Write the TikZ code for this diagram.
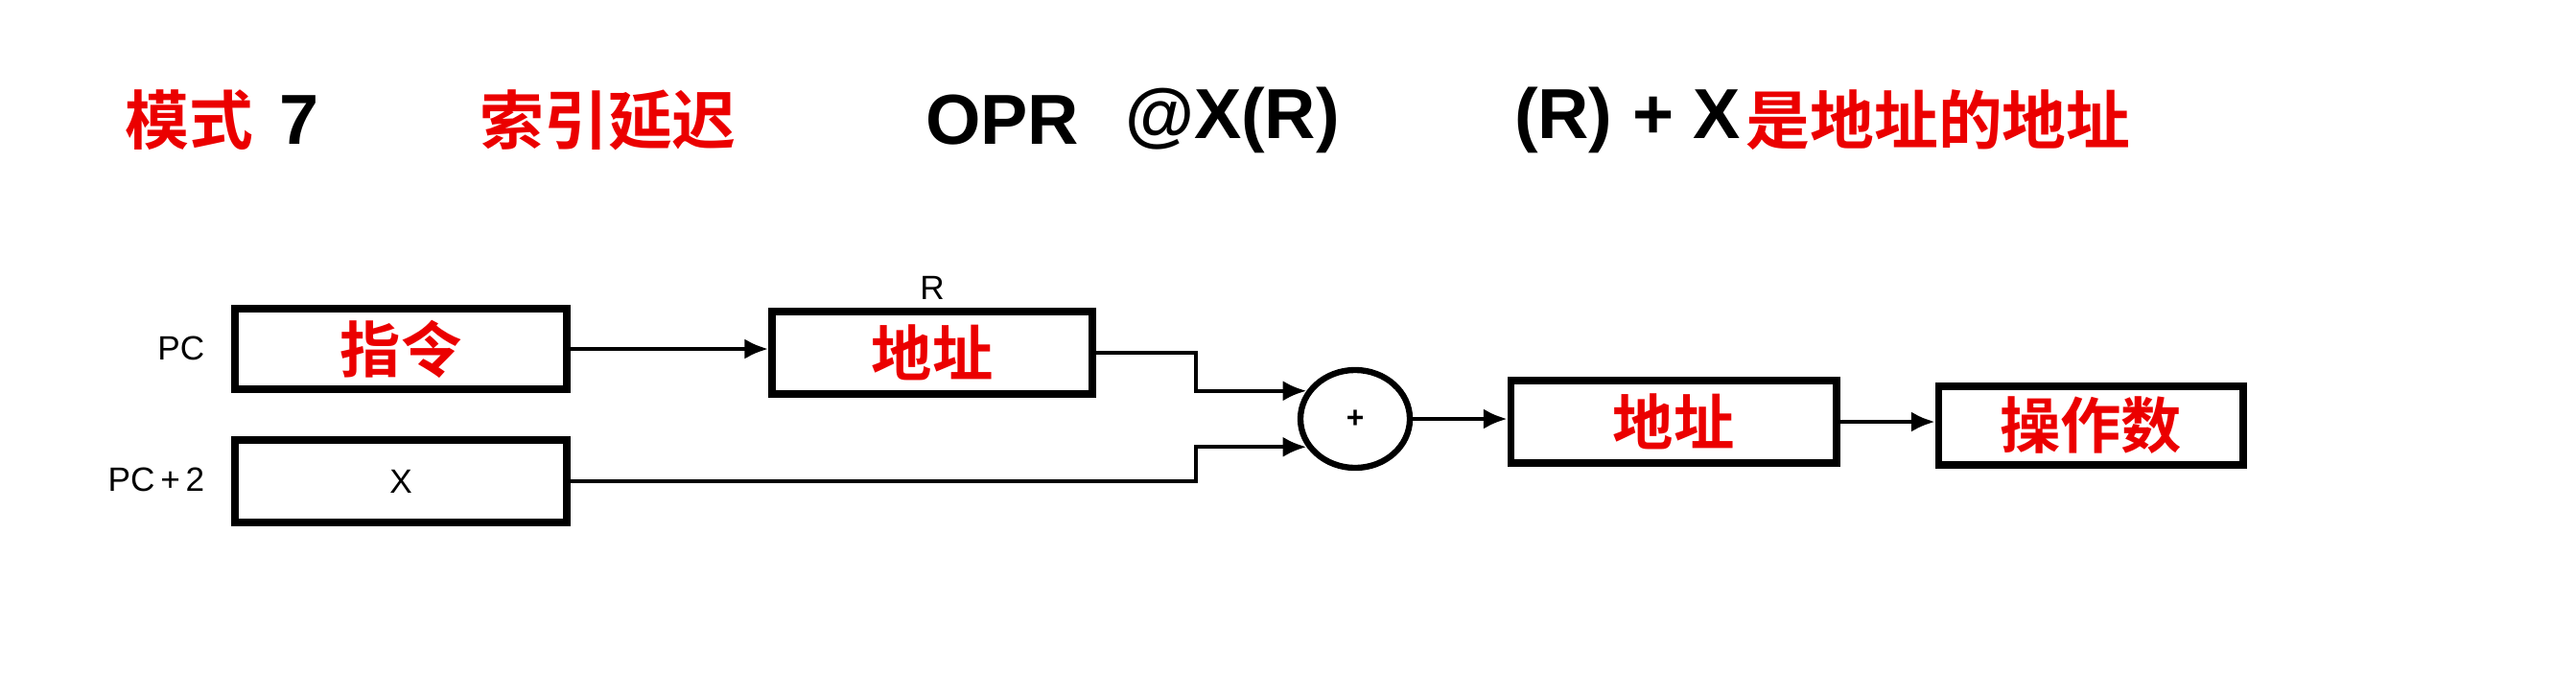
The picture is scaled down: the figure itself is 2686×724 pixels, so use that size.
\documentclass[tikz,border=0pt]{standalone}
\usepackage{fontspec}
\setmainfont{Liberation Sans}
\newfontfamily\cjk{Noto Sans CJK SC Bold}
\usetikzlibrary{arrows.meta,shapes.geometric}
\definecolor{tred}{RGB}{235,0,0}
\begin{document}
\begin{tikzpicture}[x=0.01cm,y=-0.01cm,
  regbox/.style={draw, line width=2.2pt, inner sep=0pt},
  arr/.style={line width=1.2pt, -{Latex[length=7pt,width=6pt]}},
  lbl/.style={font=\fontsize{10}{12}\selectfont, inner sep=0pt},
  ttl/.style={font=\fontsize{21}{26}\selectfont\bfseries, inner sep=0pt},
  cttl/.style={font=\cjk\fontsize{19}{22}\selectfont, text=tred, inner sep=0pt},
  cbox/.style={font=\cjk\fontsize{18}{22}\selectfont, text=tred}]
\useasboundingbox (0,0) rectangle (2686,724);
% title
\node[cttl] (t1) at (197,125) {模式};
\node[ttl] (t2) at (312,125) {7};
\node[cttl] (t3) at (634,125) {索引延迟};
\node[ttl] (t4) at (1045,125) {OPR};
\node[ttl] (t5) at (1285,125) {@X(R)};
\node[ttl] (t6) at (1697,125) {(R) + X};
\node[cttl] (t7) at (2021,125) {是地址的地址};
% boxes
\node[regbox, minimum width=3.46cm, minimum height=0.84cm, cbox] (ins) at (418,364) {指令};
\node[regbox, minimum width=3.46cm, minimum height=0.86cm, lbl] (xbox) at (418,502) {X};
\node[regbox, minimum width=3.34cm, minimum height=0.86cm, cbox] (addr1) at (972,368) {地址};
\node[draw, ellipse, line width=1.8pt, minimum width=1.14cm, minimum height=1.02cm, inner sep=0pt, font=\bfseries\fontsize{9}{10}\selectfont] (circ) at (1413,437) {+};
\node[regbox, minimum width=3.39cm, minimum height=0.86cm, cbox] (addr2) at (1745,440) {地址};
\node[regbox, minimum width=3.17cm, minimum height=0.82cm, cbox] (opd) at (2180,444) {操作数};
% labels
\node[lbl, anchor=east] (pc) at (214,363) {PC};
\node[lbl, anchor=east] (pc2) at (214,500) {PC\,+\,2};
\node[lbl] (rl) at (972,300) {R};
% connectors
\coordinate (j) at (1247,0);
\coordinate (j1) at (circ.150 -| j);
\coordinate (j2) at (circ.210 -| j);
\draw[arr] (ins.east) -- (ins.east -| addr1.west);
\draw[arr] (addr1.east) -| (j1) -- (circ.150);
\draw[arr] (xbox.east) -| (j2) -- (circ.210);
\draw[arr] (circ.east) -- (circ.east -| addr2.west);
\draw[arr] (addr2.east) -- (addr2.east -| opd.west);
\end{tikzpicture}
\end{document}
